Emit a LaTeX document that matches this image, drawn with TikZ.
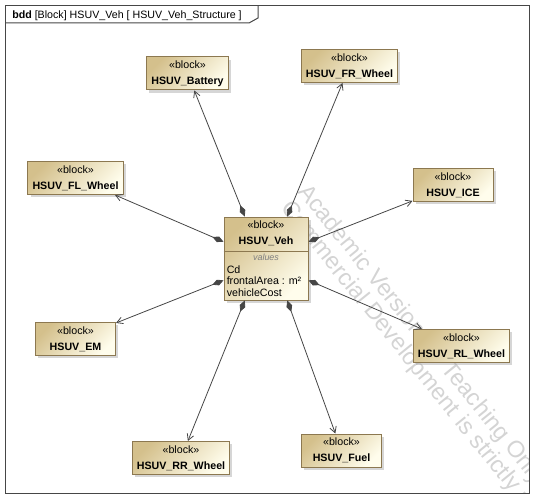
\documentclass[tikz,border=0pt]{standalone}
\usepackage{fontspec}
\setmainfont{Liberation Sans}
\usetikzlibrary{arrows.meta,shadows,calc}
\definecolor{sysbeige}{RGB}{212,192,140}
\definecolor{syscream}{RGB}{255,253,236}
\definecolor{sysbrown}{RGB}{140,120,80}
\definecolor{sysgray}{RGB}{70,70,70}
\definecolor{syswater}{RGB}{212,212,212}

\begin{document}
\begin{tikzpicture}[x=0.75pt, y=-0.75pt,
    blk/.style={draw=sysbrown, line width=0.75pt, top color=sysbeige, bottom color=syscream,
        shading angle=45, drop shadow={shadow xshift=2pt, shadow yshift=-2pt, fill=black!40, opacity=0.4},
        minimum width=60pt, minimum height=24.75pt, inner xsep=3.4pt, inner ysep=0pt,
        align=center, font=\fontsize{8}{12}\selectfont},
    comp/.style={draw=sysgray, line width=0.6pt, {Diamond[length=9pt,width=4.5pt]}-{Straight Barb[length=4.5pt,width=5pt]}},
    wmark/.style={text=syswater, font=\fontsize{17.6}{20}\selectfont, rotate=-51, inner sep=0pt, anchor=base west}]
\useasboundingbox (0,0) rectangle (534,499);

% Watermark, kept inside the frame
\begin{scope}
\clip (6,6) rectangle (529,493);
\node[wmark] (wm1) at (297,192) {Academic Version for Teaching Only};
\node[wmark] (wm2) at (280,208) {Commercial Development is strictly prohibited};
\end{scope}

% Frame
\draw[sysgray, line width=0.75pt] (5.5,5.5) rectangle (529.5,493.5);
\draw[sysgray, line width=0.75pt] (5.5,23) -- (249,23) -- (258,18) -- (258,5.5);
\node[anchor=base west, inner sep=0pt, font=\fontsize{8}{10}\selectfont] (title) at (12,18.5)
    {\textbf{bdd} [Block] HSUV\_Veh [ HSUV\_Veh\_Structure ]};

% Parts
\foreach \name/\x/\y/\label in {bat/187.5/73.5/Battery, frw/349.5/66/FR\_Wheel,
    ice/453/185/ICE, flw/75.5/178/FL\_Wheel, em/75.5/339/EM, rlw/461.5/346/RL\_Wheel,
    rrw/181/458/RR\_Wheel, fuel/341.5/450.5/Fuel} {
    \node[blk] (\name) at (\x,\y) {«block»\\\textbf{HSUV\_\label}};
}

% Vehicle block
\node[blk, minimum width=63pt, minimum height=62.25pt] (veh) at (266,258.5) {};
\node[align=center, font=\fontsize{8}{12}\selectfont] (vehname) at (266,233) {«block»\\\textbf{HSUV\_Veh}};
\coordinate (vsep) at (0,251);
\draw[sysbrown, line width=0.75pt] (veh.west |- vsep) -- (veh.east |- vsep);
\node[text=gray, font=\fontsize{6.7}{8}\selectfont\itshape] (vals) at (266,257.7) {values};
\node[anchor=west, align=left, inner sep=0pt, font=\fontsize{8}{8.4}\selectfont] (vattr) at (226.5,281)
    {Cd\\frontalArea : m²\\vehicleCost};

% Connector ends on the vehicle
\coordinate (vn1) at ($(veh.north west)!.25!(veh.north east)$);
\coordinate (vn2) at ($(veh.north west)!.75!(veh.north east)$);
\coordinate (vs1) at ($(veh.south west)!.25!(veh.south east)$);
\coordinate (vs2) at ($(veh.south west)!.75!(veh.south east)$);
\coordinate (vw1) at ($(veh.north west)!.3!(veh.south west)$);
\coordinate (vw2) at ($(veh.north west)!.76!(veh.south west)$);
\coordinate (ve1) at ($(veh.north east)!.3!(veh.south east)$);
\coordinate (ve2) at ($(veh.north east)!.76!(veh.south east)$);

% Compositions
\foreach \from/\to in {vn1/bat, vn2/frw, ve1/ice, vw1/flw, vw2/em, ve2/rlw, vs1/rrw, vs2/fuel} {
    \draw[comp] (\from) -- (\to);
}
\end{tikzpicture}
\end{document}
